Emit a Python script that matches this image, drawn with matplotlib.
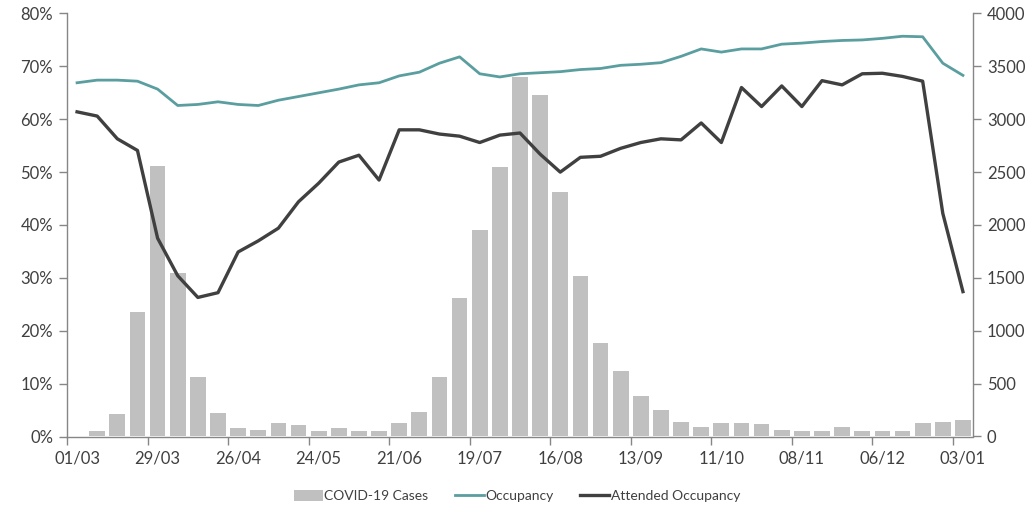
import matplotlib
matplotlib.use("Agg")
import matplotlib.pyplot as plt
from matplotlib.ticker import FixedLocator, FuncFormatter
from matplotlib.patches import Patch
from matplotlib.lines import Line2D

plt.rcParams["font.family"] = ["Lato", "DejaVu Sans"]

# Weekly series, week commencing 01/03 through 03/01
weeks = list(range(45))
tick_labels = ["01/03", "29/03", "26/04", "24/05", "21/06", "19/07",
               "16/08", "13/09", "11/10", "08/11", "06/12", "03/01"]

covid_cases = [0, 55, 210, 1174, 2561, 1543, 566, 219, 77, 64,
               128, 109, 55, 77, 55, 55, 128, 229, 566, 1307,
               1953, 2548, 3400, 3226, 2312, 1521, 887, 619, 383, 251,
               140, 87, 128, 128, 115, 64, 55, 55, 87, 55,
               55, 55, 128, 137, 156]

occupancy = [66.9, 67.4, 67.4, 67.2, 65.7, 62.6, 62.8, 63.3, 62.8, 62.6,
             63.6, 64.3, 65.0, 65.7, 66.5, 66.9, 68.2, 68.9, 70.6, 71.8,
             68.6, 68.0, 68.6, 68.8, 69.0, 69.4, 69.6, 70.2, 70.4, 70.7,
             71.9, 73.3, 72.7, 73.3, 73.3, 74.2, 74.4, 74.7, 74.9, 75.0,
             75.3, 75.7, 75.6, 70.6, 68.3]

attended = [61.4, 60.6, 56.3, 54.1, 37.5, 30.4, 26.3, 27.2, 34.9, 37.0,
            39.4, 44.4, 47.9, 51.9, 53.2, 48.5, 58.0, 58.0, 57.2, 56.8,
            55.6, 57.0, 57.4, 53.4, 50.0, 52.8, 53.0, 54.5, 55.6, 56.3,
            56.1, 59.3, 55.6, 66.0, 62.4, 66.3, 62.4, 67.3, 66.5, 68.6,
            68.7, 68.1, 67.2, 42.2, 27.4]

bar_color = "#c0c0c0"
teal = "#5b9ea0"
dark = "#404040"
axis_grey = "#868686"
text_color = "#404040"

fig = plt.figure(figsize=(10.34, 5.07), dpi=100)
ax = fig.add_axes([67 / 1034, 1 - 436.5 / 507, (973 - 67) / 1034, (436.5 - 13.5) / 507])
ax2 = ax.twinx()

ax2.bar(weeks, covid_cases, width=0.78, color=bar_color, zorder=1)
ax.plot(weeks, occupancy, color=teal, lw=2.0, solid_joinstyle="round", zorder=3)
ax.plot(weeks, attended, color=dark, lw=2.4, solid_joinstyle="round", zorder=3)

ax.set_zorder(ax2.get_zorder() + 1)
ax.patch.set_visible(False)

ax.set_xlim(-0.5, 44.5)
ax.set_ylim(0, 80)
ax2.set_ylim(0, 4000)

ax.yaxis.set_major_locator(FixedLocator(range(0, 81, 10)))
ax.yaxis.set_major_formatter(FuncFormatter(lambda v, p: f"{v:.0f}%"))
ax2.yaxis.set_major_locator(FixedLocator(range(0, 4001, 500)))

ax.set_xticks(weeks[::4])
ax.set_xticklabels(tick_labels)
ax.set_xticks([w - 0.5 for w in weeks[::4]], minor=True)
ax.tick_params(axis="x", which="major", length=0, pad=10)
ax.tick_params(axis="x", which="minor", length=6, direction="out", color=axis_grey, width=1)

for a in (ax, ax2):
    for s in a.spines.values():
        s.set_visible(False)
    a.tick_params(axis="y", length=6, direction="out", color=axis_grey, width=1,
                  labelsize=12, labelcolor=text_color, pad=4)
ax.tick_params(axis="x", labelsize=12, labelcolor=text_color)

ax.spines["left"].set_visible(True)
ax.spines["bottom"].set_visible(True)
ax2.spines["right"].set_visible(True)
for s in (ax.spines["left"], ax.spines["bottom"], ax2.spines["right"]):
    s.set_color(axis_grey)
    s.set_linewidth(1)

handles = [Patch(facecolor=bar_color, edgecolor="none"),
           Line2D([], [], color=teal, lw=2.0),
           Line2D([], [], color=dark, lw=2.4)]
fig.legend(handles, ["COVID-19 Cases", "Occupancy", "Attended Occupancy"],
           loc="center", bbox_to_anchor=(0.5, 1 - 496 / 507), ncol=3, frameon=False,
           fontsize=10, labelcolor=text_color, handlelength=2.1, handleheight=0.9,
           handletextpad=0.1, columnspacing=1.9)

fig.savefig("out.png", dpi=100)
